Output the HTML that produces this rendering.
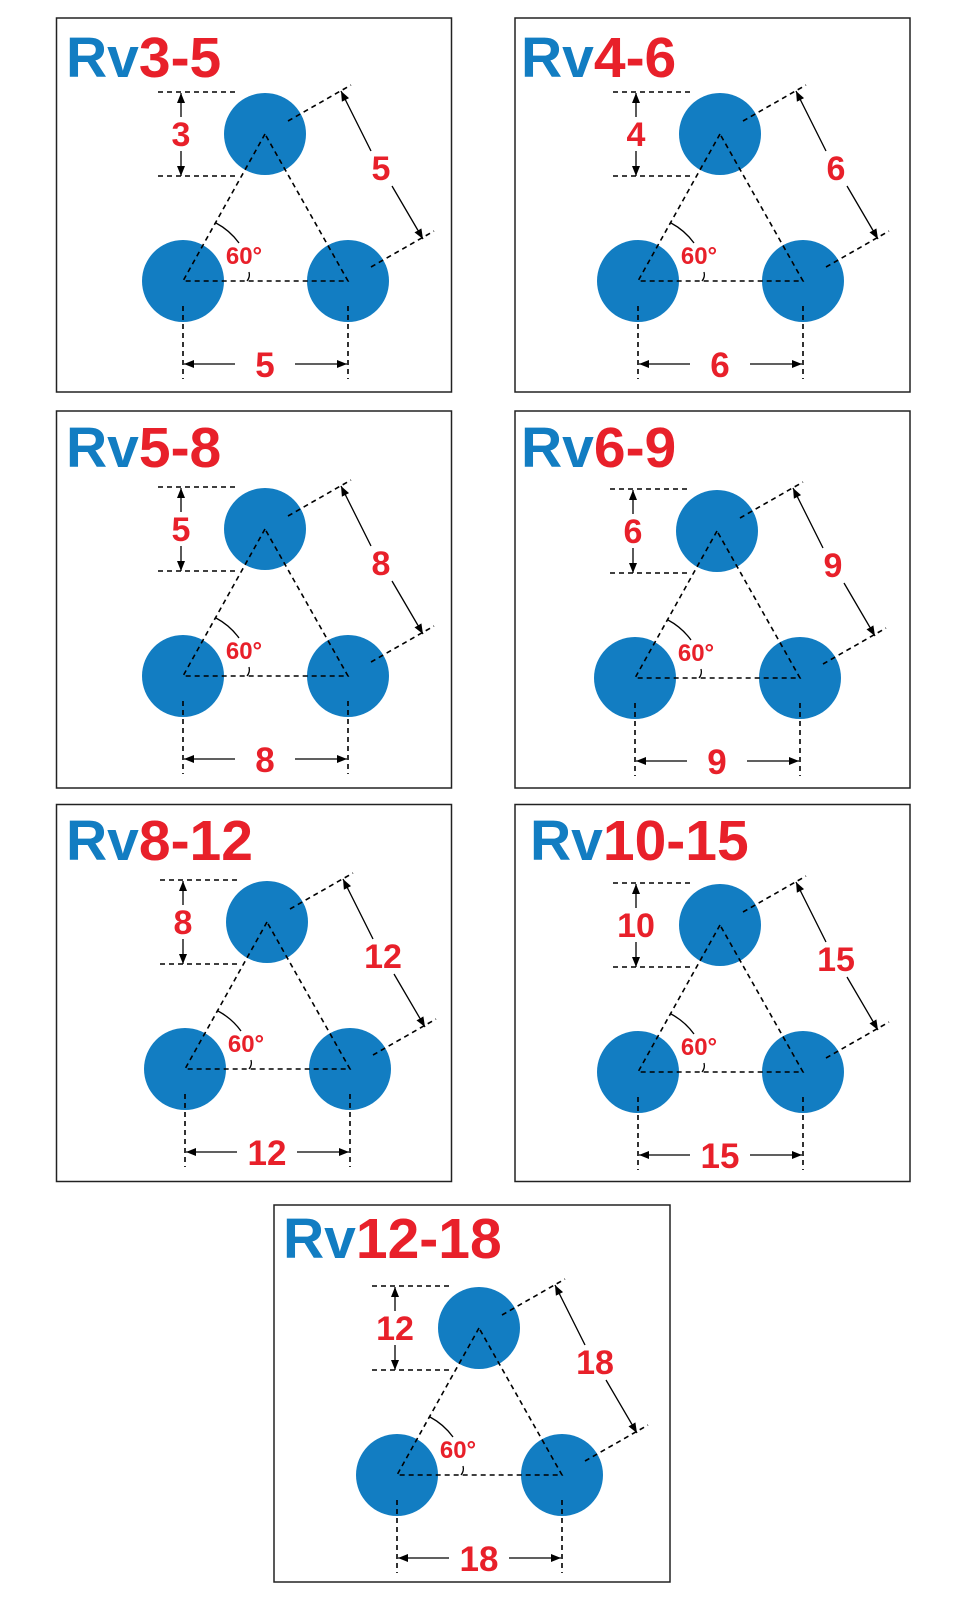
<!DOCTYPE html>
<html><head><meta charset="utf-8"><style>
html,body{margin:0;padding:0;background:#fff}
svg{display:block}
.t{font-family:"Liberation Sans",Arial,sans-serif;font-weight:bold}
</style></head><body>
<svg width="959" height="1600" viewBox="0 0 959 1600" xmlns="http://www.w3.org/2000/svg">
<defs>
<marker id="a" viewBox="0 0 10 10" refX="10" refY="5" markerWidth="10" markerHeight="10" orient="auto" markerUnits="userSpaceOnUse"><path d="M0,1 L10,5 L0,9 Z" fill="#000"/></marker>
<g id="d">
<circle cx="0" cy="0" r="41" fill="#127dc2"/>
<circle cx="-82" cy="147" r="41" fill="#127dc2"/>
<circle cx="83" cy="147" r="41" fill="#127dc2"/>
<g fill="none" stroke="#000" stroke-width="1.6" stroke-dasharray="5,4">
<path d="M0,0 L-82,147 L83,147 Z"/>
<path d="M-107,-42 H-27 M-107,42 H-27"/>
<path d="M23,-13 L86,-49 M106,133 L169,97"/>
<path d="M-82,172 V245 M83,172 V245"/>
</g>
<g fill="none" stroke="#000" stroke-width="1.3">
<path d="M-84,-17 V-41" marker-end="url(#a)"/>
<path d="M-84,17 V42" marker-end="url(#a)"/>
<path d="M106,17 L76,-43" marker-end="url(#a)"/>
<path d="M127,52 L158,105" marker-end="url(#a)"/>
<path d="M-30,230 H-81" marker-end="url(#a)"/>
<path d="M30,230 H82" marker-end="url(#a)"/>
<path d="M-49,89 A68,68 0 0 1 -26,109"/>
<path d="M-16,138 A10,10 0 0 1 -18,147"/>
</g>
</g>
</defs>
<g fill="#fff" stroke="#222" stroke-width="1.5">
<rect x="56.5" y="18" width="395" height="374"/>
<rect x="515" y="18" width="395" height="374"/>
<rect x="56.5" y="411" width="395" height="377"/>
<rect x="515" y="411" width="395" height="377"/>
<rect x="56.5" y="804.5" width="395" height="377"/>
<rect x="515" y="804.5" width="395" height="377"/>
<rect x="274" y="1205" width="396" height="377"/>
</g>

<g class="t" font-size="57">
<text x="66" y="77"><tspan fill="#127dc2">Rv</tspan><tspan fill="#e8202a">3-5</tspan></text>
<text x="521" y="77"><tspan fill="#127dc2">Rv</tspan><tspan fill="#e8202a">4-6</tspan></text>
<text x="66" y="467"><tspan fill="#127dc2">Rv</tspan><tspan fill="#e8202a">5-8</tspan></text>
<text x="521" y="467"><tspan fill="#127dc2">Rv</tspan><tspan fill="#e8202a">6-9</tspan></text>
<text x="66" y="860"><tspan fill="#127dc2">Rv</tspan><tspan fill="#e8202a">8-12</tspan></text>
<text x="530" y="860"><tspan fill="#127dc2">Rv</tspan><tspan fill="#e8202a">10-15</tspan></text>
<text x="283" y="1258"><tspan fill="#127dc2">Rv</tspan><tspan fill="#e8202a">12-18</tspan></text>
</g>

<g transform="translate(265,134)"><use href="#d"/>
<g class="t" fill="#e8202a" text-anchor="middle"><text x="-84" y="12" font-size="34">3</text><text x="116" y="46" font-size="34">5</text><text x="0" y="243" font-size="35">5</text><text x="-21" y="130" font-size="24">60°</text></g></g>

<g transform="translate(720,134)"><use href="#d"/>
<g class="t" fill="#e8202a" text-anchor="middle"><text x="-84" y="12" font-size="34">4</text><text x="116" y="46" font-size="34">6</text><text x="0" y="243" font-size="35">6</text><text x="-21" y="130" font-size="24">60°</text></g></g>

<g transform="translate(265,529)"><use href="#d"/>
<g class="t" fill="#e8202a" text-anchor="middle"><text x="-84" y="12" font-size="34">5</text><text x="116" y="46" font-size="34">8</text><text x="0" y="243" font-size="35">8</text><text x="-21" y="130" font-size="24">60°</text></g></g>

<g transform="translate(717,531)"><use href="#d"/>
<g class="t" fill="#e8202a" text-anchor="middle"><text x="-84" y="12" font-size="34">6</text><text x="116" y="46" font-size="34">9</text><text x="0" y="243" font-size="35">9</text><text x="-21" y="130" font-size="24">60°</text></g></g>

<g transform="translate(267,922)"><use href="#d"/>
<g class="t" fill="#e8202a" text-anchor="middle"><text x="-84" y="12" font-size="34">8</text><text x="116" y="46" font-size="34">12</text><text x="0" y="243" font-size="35">12</text><text x="-21" y="130" font-size="24">60°</text></g></g>

<g transform="translate(720,925)"><use href="#d"/>
<g class="t" fill="#e8202a" text-anchor="middle"><text x="-84" y="12" font-size="34">10</text><text x="116" y="46" font-size="34">15</text><text x="0" y="243" font-size="35">15</text><text x="-21" y="130" font-size="24">60°</text></g></g>

<g transform="translate(479,1328)"><use href="#d"/>
<g class="t" fill="#e8202a" text-anchor="middle"><text x="-84" y="12" font-size="34">12</text><text x="116" y="46" font-size="34">18</text><text x="0" y="243" font-size="35">18</text><text x="-21" y="130" font-size="24">60°</text></g></g>
</svg>
</body></html>
